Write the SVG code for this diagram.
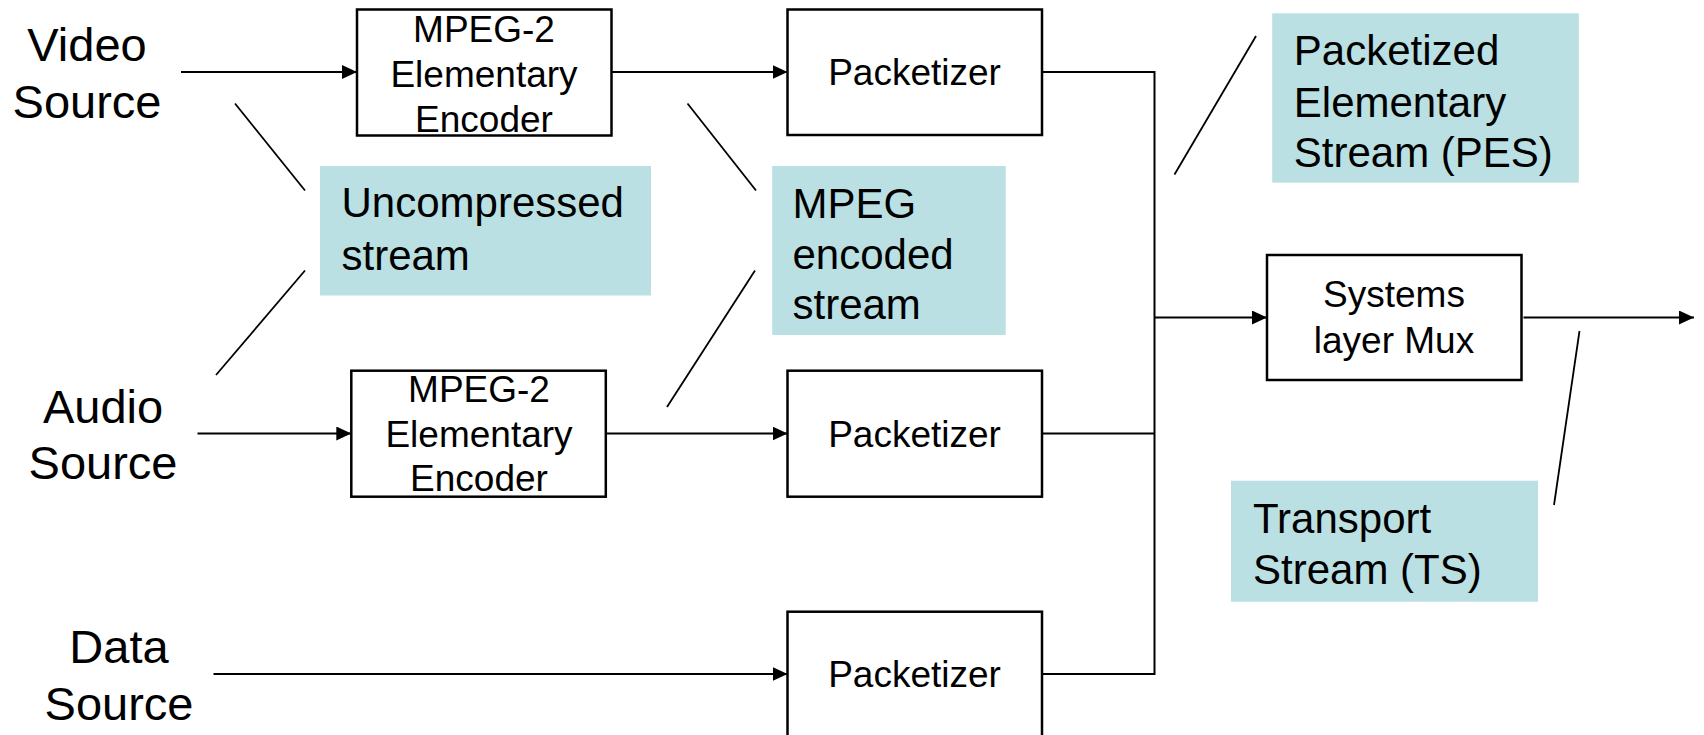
<svg xmlns="http://www.w3.org/2000/svg" width="1704" height="735" viewBox="0 0 1704 735">
<style>
.box{fill:#fff;stroke:#000;stroke-width:2.5}
.call{fill:#BAE0E3}
.t{font-family:"Liberation Sans",Arial,sans-serif;fill:#000}
.src{font-size:47px;text-anchor:middle}
.bt{font-size:37px;text-anchor:middle}
.ct{font-size:42px}
.c{stroke:#000;stroke-width:2;fill:none}
.lead{stroke:#000;stroke-width:1.8;fill:none}
</style>
<defs>
<marker id="ah" markerWidth="16" markerHeight="14" refX="15" refY="7" orient="auto" markerUnits="userSpaceOnUse">
<path d="M0,0 L15,7 L0,14 Z" fill="#000"/>
</marker>
</defs>
<g id="video-source"><text class="t src" x="87" y="61">Video</text><text class="t src" x="87" y="118">Source</text></g>
<g id="audio-source"><text class="t src" x="103" y="423">Audio</text><text class="t src" x="103" y="479">Source</text></g>
<g id="data-source"><text class="t src" x="119" y="663">Data</text><text class="t src" x="119" y="720">Source</text></g>
<g id="encoder-video"><rect class="box" x="357" y="9.5" width="254.5" height="126"/><text class="t bt" x="484" y="41.5">MPEG-2</text><text class="t bt" x="484" y="86.5">Elementary</text><text class="t bt" x="484" y="131.5">Encoder</text></g>
<g id="encoder-audio"><rect class="box" x="351.3" y="370.7" width="254.5" height="126"/><text class="t bt" x="479" y="401.7">MPEG-2</text><text class="t bt" x="479" y="446.5">Elementary</text><text class="t bt" x="479" y="491">Encoder</text></g>
<g id="packetizer-video"><rect class="box" x="787.5" y="9.5" width="254.5" height="125.5"/><text class="t bt" x="914.5" y="85">Packetizer</text></g>
<g id="packetizer-audio"><rect class="box" x="787.5" y="370.7" width="254.5" height="126"/><text class="t bt" x="914.5" y="447">Packetizer</text></g>
<g id="packetizer-data"><rect class="box" x="787.5" y="611.7" width="254.5" height="140"/><text class="t bt" x="914.5" y="687">Packetizer</text></g>
<g id="mux"><rect class="box" x="1267" y="255" width="254.5" height="125"/><text class="t bt" x="1394" y="307">Systems</text><text class="t bt" x="1394" y="353">layer Mux</text></g>
<g id="callout-uncompressed"><rect class="call" x="320" y="166" width="331" height="129.5"/><text class="t ct" x="341.5" y="216.7">Uncompressed</text><text class="t ct" x="341.5" y="269.5">stream</text><line class="lead" x1="235" y1="103.5" x2="305" y2="190.5"/><line class="lead" x1="305" y1="270.5" x2="216" y2="375"/></g>
<g id="callout-mpeg"><rect class="call" x="772.2" y="166" width="233.5" height="169"/><text class="t ct" x="792.5" y="218.3">MPEG</text><text class="t ct" x="792.5" y="268.5">encoded</text><text class="t ct" x="792.5" y="319">stream</text><line class="lead" x1="687.5" y1="103.5" x2="756" y2="190.5"/><line class="lead" x1="755" y1="270.5" x2="667" y2="407"/></g>
<g id="callout-pes"><rect class="call" x="1272.2" y="13.3" width="306.6" height="169.4"/><text class="t ct" x="1293.8" y="65">Packetized</text><text class="t ct" x="1293.8" y="116.7">Elementary</text><text class="t ct" x="1293.8" y="166.7">Stream (PES)</text><line class="lead" x1="1256" y1="36" x2="1174.5" y2="174.5"/></g>
<g id="callout-ts"><rect class="call" x="1231" y="480.7" width="307" height="121"/><text class="t ct" x="1253" y="533.3">Transport</text><text class="t ct" x="1253" y="583.5">Stream (TS)</text><line class="lead" x1="1579.5" y1="331" x2="1554" y2="505"/></g>
<g id="connectors">
<line class="c" x1="181" y1="72" x2="357" y2="72" marker-end="url(#ah)"/>
<line class="c" x1="611.5" y1="72" x2="787.5" y2="72" marker-end="url(#ah)"/>
<line class="c" x1="197.5" y1="433.5" x2="351.3" y2="433.5" marker-end="url(#ah)"/>
<line class="c" x1="605.8" y1="433.5" x2="787.5" y2="433.5" marker-end="url(#ah)"/>
<line class="c" x1="213.5" y1="674" x2="787.5" y2="674" marker-end="url(#ah)"/>
<polyline class="c" points="1042,72 1154.5,72 1154.5,674 1042,674"/>
<line class="c" x1="1042" y1="433.5" x2="1154.5" y2="433.5"/>
<line class="c" x1="1154.5" y1="317.5" x2="1267" y2="317.5" marker-end="url(#ah)"/>
<line class="c" x1="1523.5" y1="317.5" x2="1694" y2="317.5" marker-end="url(#ah)"/>
</g>
</svg>
